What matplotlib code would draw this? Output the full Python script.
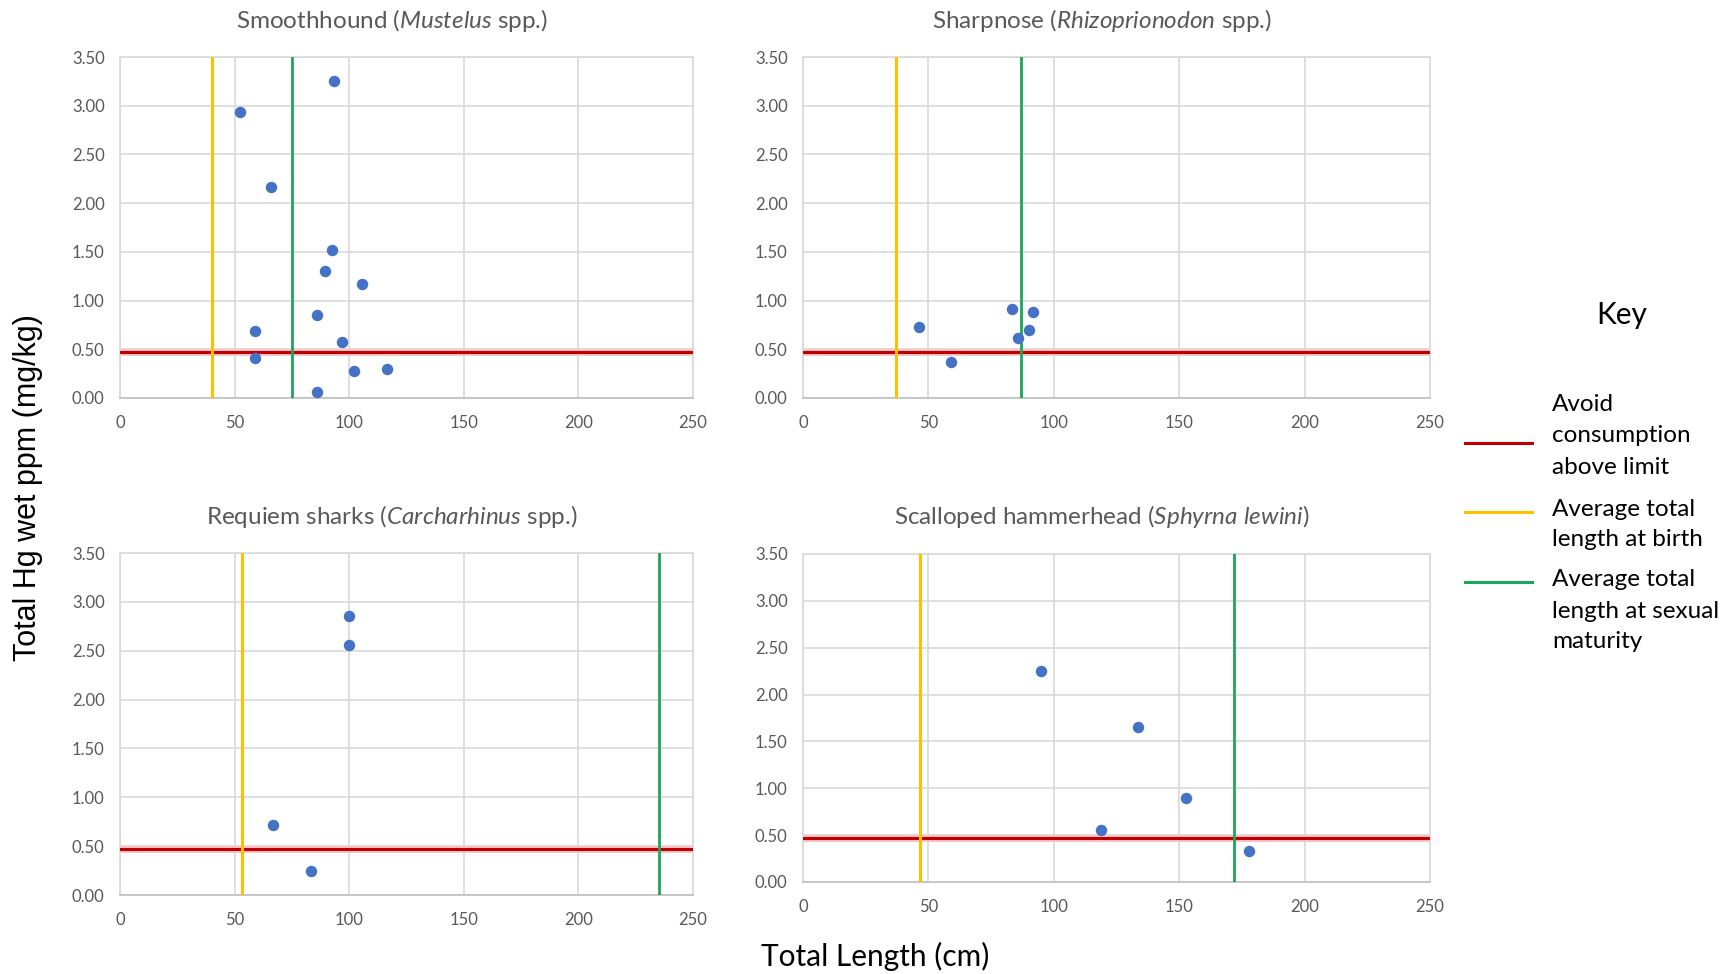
import numpy as np
import matplotlib.pyplot as plt

# data (total length cm, total Hg ppm)
smooth_len = [93.5, 52.5, 65.7, 92.7, 89.3, 105.8, 85.9, 59.1, 96.8, 59.1, 102.2, 116.6, 85.9]
smooth_hg = [3.25, 2.94, 2.17, 1.52, 1.30, 1.17, 0.85, 0.69, 0.57, 0.41, 0.28, 0.30, 0.06]
sharp_len = [46.3, 59.1, 83.2, 91.8, 90.3, 85.6]
sharp_hg = [0.73, 0.37, 0.91, 0.88, 0.70, 0.62]
requiem_len = [100.0, 100.0, 66.9, 83.3]
requiem_hg = [2.86, 2.56, 0.72, 0.25]
hammer_len = [94.9, 133.5, 152.9, 118.7, 177.9]
hammer_hg = [2.25, 1.65, 0.90, 0.56, 0.33]

hg_limit = 0.47
birth_len = [40.1, 36.9, 53.3, 46.8]
maturity_len = [75.1, 87.1, 235.2, 171.7]

titles = [("Smoothhound (", "Mustelus", " spp.)"),
          ("Sharpnose (", "Rhizoprionodon", " spp.)"),
          ("Requiem sharks (", "Carcharhinus", " spp.)"),
          ("Scalloped hammerhead (", "Sphyrna lewini", ")")]
key_labels = [["Avoid", "consumption", "above limit"],
              ["Average total", "length at birth"],
              ["Average total", "length at sexual", "maturity"]]

plt.rcParams['font.family'] = ['Lato', 'DejaVu Sans']
plt.rcParams['mathtext.fontset'] = 'custom'
plt.rcParams['mathtext.it'] = 'Lato:italic'
plt.rcParams['mathtext.rm'] = 'Lato'

W, H = 1732, 974
fig = plt.figure(figsize=(W / 100, H / 100), dpi=100)

RED, YEL, GRN, BLUE = '#c00000', '#ffc000', '#1ea55a', '#4472c4'
GRAY = '#595959'

# pixel boxes: left, right, top, bottom
boxes = [(120, 693, 57, 398), (803, 1430, 57, 398),
         (120, 693, 553, 895), (803, 1430, 554, 882)]
title_pos = [(392, 20), (1102, 20), (392, 517), (1102, 517)]
data = [(smooth_len, smooth_hg), (sharp_len, sharp_hg),
        (requiem_len, requiem_hg), (hammer_len, hammer_hg)]

for i, (l, r, t, b) in enumerate(boxes):
    ax = fig.add_axes([l / W, 1 - b / H, (r - l) / W, (b - t) / H])
    ax.set_xlim(0, 250)
    ax.set_ylim(0, 3.5)
    ax.set_xticks(np.arange(0, 251, 50))
    ax.set_yticks(np.arange(0, 3.51, 0.5))
    ax.set_yticklabels(['%.2f' % v for v in np.arange(0, 3.51, 0.5)])
    ax.grid(True, color='#d9d9d9', lw=1.2)
    ax.set_axisbelow(True)
    for s in ax.spines.values():
        s.set_color('#d9d9d9')
        s.set_linewidth(1.2)
    ax.spines['bottom'].set_color('#bfbfbf')
    ax.tick_params(length=0, labelsize=12, labelcolor=GRAY)
    ax.tick_params(axis='x', pad=12)
    ax.tick_params(axis='y', pad=11)
    ax.axhline(hg_limit, color='#f6c4c4', lw=5, zorder=2)
    ax.axhline(hg_limit, color=RED, lw=2.2, zorder=3)
    ax.axvline(birth_len[i], color=YEL, lw=2.2, zorder=3)
    ax.axvline(maturity_len[i], color=GRN, lw=2, zorder=3)
    x, y = data[i]
    ax.scatter(x, y, s=68, color=BLUE, zorder=4, linewidths=0)

    pre, ital, post = titles[i]
    tx, ty = title_pos[i]
    fig.text(tx / W, 1 - ty / H, pre + r"$\mathit{" + ital.replace(' ', r'\ ') + "}$" + post,
             ha='center', va='center', fontsize=17.5, color=GRAY)

fig.text(28 / W, 1 - 488 / H, "Total Hg wet ppm (mg/kg)", rotation=90,
         ha='center', va='center', fontsize=22, family='Liberation Sans')
fig.text(875 / W, 1 - 956 / H, "Total Length (cm)", ha='center', va='center', fontsize=21.5)

fig.text(1622 / W, 1 - 315 / H, "Key", ha='center', va='center', fontsize=21.5)
key_colors = [RED, YEL, GRN]
key_line_y = [443, 512, 582]
key_text_y = [[405, 436, 467], [509, 539], [580, 611, 642]]
for c, ly, tys, labs in zip(key_colors, key_line_y, key_text_y, key_labels):
    fig.add_artist(plt.Line2D([1465 / W, 1532 / W], [1 - ly / H, 1 - ly / H], color=c, lw=2.2))
    for ty, lab in zip(tys, labs):
        fig.text(1552 / W, 1 - ty / H, lab, ha='left', va='center', fontsize=17.5)

fig.savefig('out.png', dpi=100)
